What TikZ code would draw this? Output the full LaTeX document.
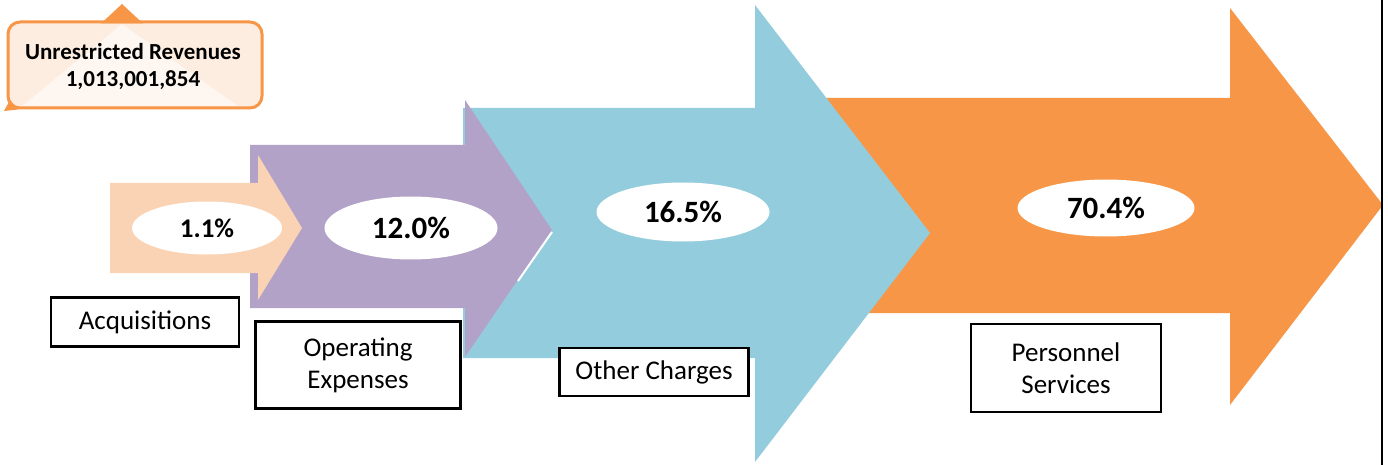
\documentclass[tikz,border=0pt]{standalone}
\usepackage{fontspec}
\setmainfont{Carlito}
\usetikzlibrary{shapes.geometric}
\definecolor{orangeA}{HTML}{F79646}
\definecolor{blueA}{HTML}{93CDDD}
\definecolor{purpleA}{HTML}{B3A2C7}
\definecolor{peachA}{HTML}{FAD3B4}
\definecolor{calloutfill}{HTML}{FDEDE0}
\definecolor{callouttri}{HTML}{FEF6F0}
\begin{document}
\begin{tikzpicture}[x=1pt,y=-1pt,
 pct/.style={ellipse, fill=white, inner sep=0pt, font=\bfseries\fontsize{31}{31}\selectfont},
 lbl/.style={draw=black, line width=2.5pt, fill=white, inner sep=0pt, align=center, font=\fontsize{27}{32}\selectfont}]
\useasboundingbox (0,0) rectangle (1388,465);
\fill[white] (0,0) rectangle (1388,465);
% Personnel Services arrow
\fill[orangeA] (823,98) -- (1230,98) -- (1230,8) -- (1383,205) -- (1230,405) -- (1230,313) -- (823,313) -- cycle;
% Other Charges arrow
\fill[blueA] (463,108) -- (755,108) -- (755,5) -- (930,233) -- (755,462) -- (755,358) -- (463,358) -- cycle;
% Operating Expenses arrow
\fill[purpleA] (250,145) -- (465,145) -- (465,100) -- (552,230) -- (465,357) -- (465,308) -- (250,308) -- cycle;
\draw[white, line width=2pt] (552,232) -- (518,281);
% Acquisitions arrow
\fill[peachA] (110,183) -- (258,183) -- (258,155) -- (302,228) -- (258,300) -- (258,273) -- (110,273) -- cycle;
% callout
\fill[calloutfill, rounded corners=12pt] (8,22) rectangle (262,108);
\fill[callouttri] (122,24) -- (238,106) -- (22,106) -- cycle;
\draw[orangeA, line width=3pt, rounded corners=12pt] (8,22) rectangle (262,108);
\fill[orangeA] (101,23.5) -- (122,4) -- (143,23.5) -- cycle;
\fill[orangeA] (4,111) -- (10,100) -- (18,109.5) -- cycle;
% right border line
\draw[black, line width=2pt] (1382,0) -- (1382,465);
% texts
\node[font=\bfseries\fontsize{23}{27}\selectfont, align=center] (rev) at (133,66) {Unrestricted Revenues\\1,013,001,854};
\node[pct, minimum width=150pt, minimum height=53pt, font=\bfseries\fontsize{27}{27}\selectfont] (e1) at (207,228) {1.1\%};
\node[pct, minimum width=173pt, minimum height=63pt] (e2) at (411,228) {12.0\%};
\node[pct, minimum width=173pt, minimum height=59pt] (e3) at (683,212) {16.5\%};
\node[pct, minimum width=177pt, minimum height=57pt] (e4) at (1106,208) {70.4\%};
\node[lbl, minimum width=188pt, minimum height=49pt] (acq) at (145,322) {Acquisitions};
\node[lbl, minimum width=205pt, minimum height=87pt] (opx) at (358,365) {Operating\\Expenses};
\node[lbl, minimum width=189pt, minimum height=48pt] (oth) at (654,372) {Other Charges};
\node[lbl, minimum width=190pt, minimum height=88pt] (per) at (1066,368) {Personnel\\Services};
\end{tikzpicture}
\end{document}
